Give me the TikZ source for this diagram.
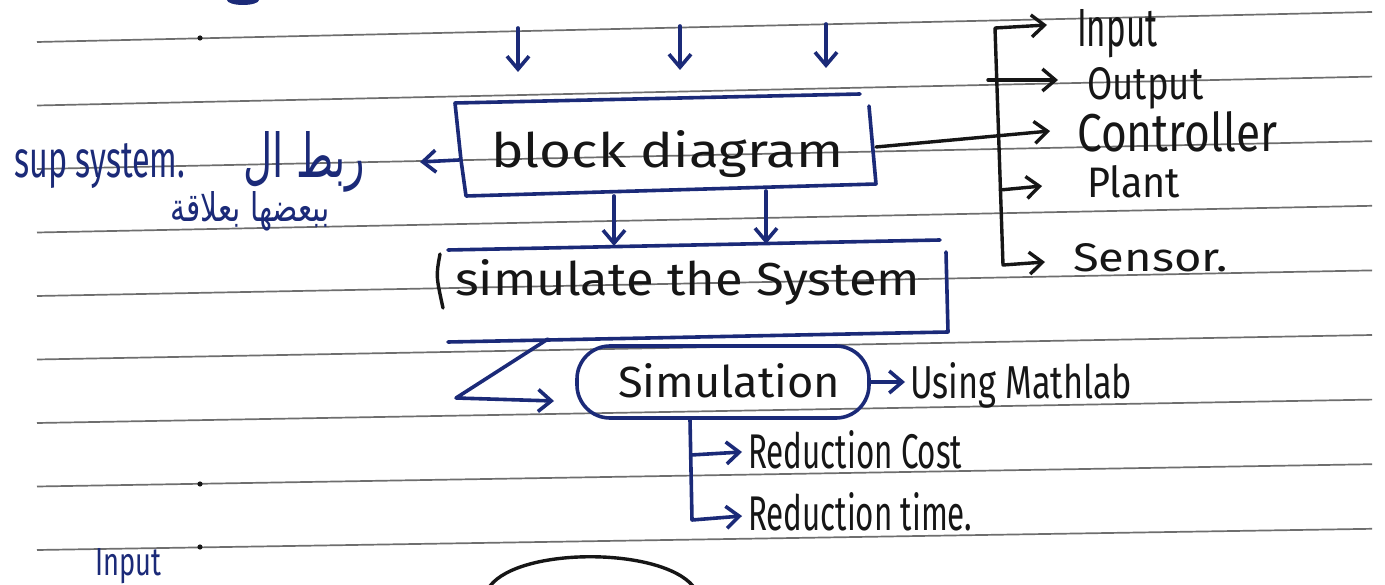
\documentclass[tikz,border=0pt]{standalone}
\usepackage{fontspec}
\setmainfont{Fira Sans}
\newfontfamily\arabicfont[Script=Arabic]{DejaVu Sans}
\TeXXeTstate=1
\usetikzlibrary{arrows.meta,shapes.geometric,calc}
\definecolor{ink}{HTML}{1B2A78}
\definecolor{pen}{HTML}{161616}
\definecolor{ruling}{HTML}{6E6E6E}
% handwritten word: width, height above baseline, text
\newcommand\hw[3]{\resizebox{#1pt}{#2pt}{#3}}
\begin{document}
\begin{tikzpicture}[x=1pt,y=-1pt,
  inkline/.style={draw=ink,line width=3.6pt,line cap=round,line join=round},
  penline/.style={draw=pen,line width=3.4pt,line cap=round,line join=round},
  barb/.tip={Straight Barb[length=13pt,width=22pt]},
  tip/.style={-barb},
  ruleline/.style={draw=ruling,line width=1.7pt},
  word/.style={inner sep=0pt,anchor=base west,text=pen},
  inkword/.style={inner sep=0pt,anchor=base west,text=ink}]
\useasboundingbox (0,0) rectangle (1385,585);
\clip (0,0) rectangle (1385,585);
\fill[white] (0,0) rectangle (1385,585);

% ruled notebook lines
\foreach \k in {0,...,8}
  \draw[ruleline] (37,{42+63.5*\k}) -- (1372,{12+64.6*\k});
\foreach \p in {(200,38),(200,484),(200,547)}
  \fill[pen] \p circle (2.6pt);
\fill[ink] (243,0) ellipse (16pt and 5pt);

% ---- block diagram ----
\node[word] (bd) at (491,168) {\hw{352}{37}{block diagram}};
\draw[inkline] (860,94) -- (455,103) -- (461,160) -- (466,196) -- (876,184) -- (869,106);
\coordinate (bdL) at (459,160);
\coordinate (bdR) at (876,147);
\foreach \x/\y in {518/28,680/26,826/24}{
  \coordinate (top\x) at (\x,\y);
  \coordinate (in\x) at (\x,{\y+44});
  \draw[inkline,tip] (top\x) -- (in\x);
}

% ---- sub system note ----
\coordinate (noteR) at (420,162);
\draw[inkline,tip] (bdL) -- (noteR);
\node[inkword] (sup) at (14,178) {\hw{171}{34}{sup system.}};
\node[inkword] (ar1) at (243,178) {\hw{122}{46}{\arabicfont\beginR ربط ال\endR}};
\node[inkword] (ar2) at (170,222) {\hw{160}{30}{\arabicfont\beginR ببعضها بعلاقة\endR}};

% ---- components bracket ----
\coordinate (brTop) at (995,28);
\coordinate (brBot) at (1003,265);
\node[word] (inp) at (1077,47) {\hw{80}{37}{Input}};
\node[word] (outp) at (1087,100) {\hw{116}{32}{Output}};
\node[word] (ctrl) at (1077,152) {\hw{200}{40}{Controller}};
\node[word] (plant) at (1087,198) {\hw{93}{32}{Plant}};
\node[word] (sens) at (1073,272) {\hw{154}{28}{Sensor.}};
\coordinate (inpT) at (1047,25);
\coordinate (outT) at (1058,80);
\coordinate (ctrlT) at (1050,131);
\coordinate (plantT) at (1042,186);
\coordinate (sensT) at (1045,262);
\draw[penline,barb-barb] (inpT) -- (brTop) -- (brBot) -- (sensT);
\draw[penline,tip] (988,80) -- (outT);
\draw[penline,tip] (bdR) -- (ctrlT);
\draw[penline,tip] (1000,190) -- (plantT);

% ---- simulate the system ----
\node[word] (sts) at (455,296) {\hw{465}{36}{simulate the System}};
\coordinate (stsA) at (614,246);
\coordinate (stsB) at (766,244);
\draw[inkline,tip] (614,196) -- (stsA);
\draw[inkline,tip] (766,191) -- (stsB);
\draw[inkline] (448,250) -- (940,240);
\draw[penline] (440,254) .. controls (436,276) .. (443,308);
\draw[inkline] (946,252) -- (948,332) -- (448,342);

% ---- simulation ----
\node[rectangle,rounded corners=33pt,draw=ink,line width=3.6pt,minimum width=292pt,minimum height=72pt] (sim) at (723,382) {};
\node[word] (simtext) at (618,397) {\hw{222}{34}{Simulation}};
\coordinate (zTop) at (548,339);
\coordinate (zBot) at (456,398);
\coordinate (zTip) at (554,401);
\draw[inkline,tip] (zTop) -- (zBot) -- (zTip);
\coordinate (matT) at (905,382);
\draw[inkline,tip] (sim.east) -- (matT);
\node[word] (mat) at (910,398) {\hw{222}{36}{Using Mathlab}};

% ---- reductions ----
\coordinate (redTop) at ($(sim.south)+(-33,0)$);
\coordinate (redMid) at (691,455);
\coordinate (redBot) at (692,520);
\coordinate (costT) at (742,452);
\coordinate (timeT) at (742,516);
\draw[inkline,tip] (redTop) -- (redBot) -- (timeT);
\draw[inkline,tip] (redMid) -- (costT);
\node[word] (cost) at (748,468) {\hw{214}{38}{Reduction Cost}};
\node[word] (time) at (748,530) {\hw{224}{38}{Reduction time.}};

% ---- next notes at the foot of the page ----
\node[inkword] (inp2) at (95,575) {\hw{66}{27}{Input}};
\draw[penline] (490,586) .. controls (520,547) and (660,547) .. (693,586);
\end{tikzpicture}
\end{document}
